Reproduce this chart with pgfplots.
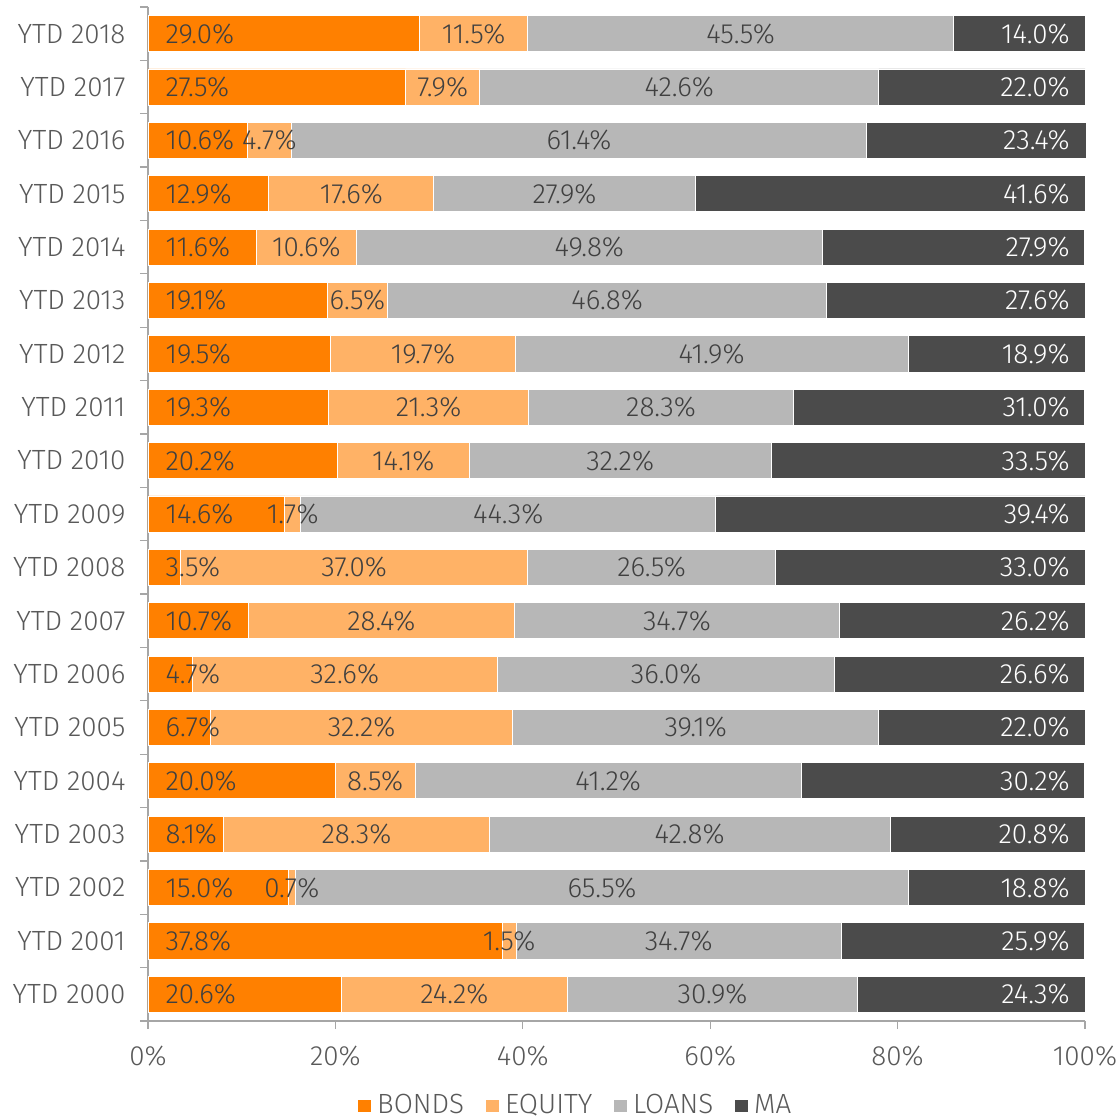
\documentclass[border=0pt]{standalone}
\usepackage{fontspec}
\setmainfont{Fira Sans}[UprightFont={* Light}]
\usepackage{pgfplots}
\usepackage{pgfplotstable}
\pgfplotsset{compat=1.18}
\definecolor{cB}{HTML}{FF8000}
\definecolor{cE}{HTML}{FFB266}
\definecolor{cL}{HTML}{B7B7B7}
\definecolor{cM}{HTML}{4B4B4B}
\definecolor{txt}{HTML}{595959}
\definecolor{lab}{HTML}{404040}
\definecolor{axg}{HTML}{A6A6A6}
\pgfplotstableread{
y B E L M
18 29.0 11.5 45.5 14.0
17 27.5 7.9 42.6 22.0
16 10.6 4.7 61.4 23.4
15 12.9 17.6 27.9 41.6
14 11.6 10.6 49.8 27.9
13 19.1 6.5 46.8 27.6
12 19.5 19.7 41.9 18.9
11 19.3 21.3 28.3 31.0
10 20.2 14.1 32.2 33.5
9 14.6 1.7 44.3 39.4
8 3.5 37.0 26.5 33.0
7 10.7 28.4 34.7 26.2
6 4.7 32.6 36.0 26.6
5 6.7 32.2 39.1 22.0
4 20.0 8.5 41.2 30.2
3 8.1 28.3 42.8 20.8
2 15.0 0.7 65.5 18.8
1 37.8 1.5 34.7 25.9
0 20.6 24.2 30.9 24.3
}\data
\begin{document}
\begin{tikzpicture}[font=\fontsize{10}{11}\selectfont]
\useasboundingbox (-53.28pt,-35.28pt) rectangle (348.84pt,367.56pt);
\pgfplotsset{
  common/.style={
    scale only axis, width=337.32pt, height=365.04pt,
    xmin=0, xmax=100, ymin=-0.5, ymax=18.5,
    /pgf/number format/assume math mode=true,
  }
}
\begin{axis}[common,
  xbar stacked, bar width=13pt,
  axis x line=bottom, axis y line=left,
  axis line style={axg, line width=0.45pt, -},
  tick style={axg, line width=0.45pt},
  tick align=outside, major tick length=2.9pt,
  xtick={0,20,...,100},
  xticklabel={\pgfmathprintnumber{\tick}\%},
  xticklabel style={txt, yshift=-2.6pt},
  ytick={-0.5,0.5,...,18.5},
  yticklabels={},
  extra y ticks={0,...,18},
  extra y tick labels={YTD 2000,YTD 2001,YTD 2002,YTD 2003,YTD 2004,YTD 2005,YTD 2006,YTD 2007,YTD 2008,YTD 2009,YTD 2010,YTD 2011,YTD 2012,YTD 2013,YTD 2014,YTD 2015,YTD 2016,YTD 2017,YTD 2018},
  extra y tick style={major tick length=0pt, yticklabel style={txt, xshift=-4.6pt}},
  legend columns=4,
  legend style={at={(0.458,-0.0835)}, anchor=center, draw=none, fill=none,
    text=txt, /tikz/every even column/.append style={column sep=5.6pt}},
  legend image code/.code={\fill[#1] (0pt,-2.4pt) rectangle (4.8pt,2.4pt);},
  clip=false,
]
\addplot[fill=cB, draw=white, line width=0.3pt] table[x=B, y=y] {\data};
\addplot[fill=cE, draw=white, line width=0.3pt] table[x=E, y=y] {\data};
\addplot[fill=cL, draw=white, line width=0.3pt] table[x=L, y=y] {\data};
\addplot[fill=cM, draw=white, line width=0.3pt] table[x=M, y=y] {\data};
\legend{BONDS,EQUITY,LOANS,MA}
\end{axis}
\begin{axis}[common, hide axis, clip=false,
  nodes near coords={\pgfmathprintnumber[fixed,fixed zerofill,precision=1]{\pgfplotspointmeta}\%},
  point meta=explicit]
\addplot[draw=none, nodes near coords style={anchor=west, xshift=2.8pt, text=lab}]
  table[x expr=0, y=y, meta=B] {\data};
\addplot[draw=none, nodes near coords style={anchor=center, text=lab}]
  table[x expr=\thisrow{B}+0.5*\thisrow{E}, y=y, meta=E] {\data};
\addplot[draw=none, nodes near coords style={anchor=center, text=lab}]
  table[x expr=\thisrow{B}+\thisrow{E}+0.5*\thisrow{L}, y=y, meta=L] {\data};
\addplot[draw=none, nodes near coords style={anchor=east, xshift=-2pt, text=white}]
  table[x expr=100, y=y, meta=M] {\data};
\end{axis}
\end{tikzpicture}
\end{document}
